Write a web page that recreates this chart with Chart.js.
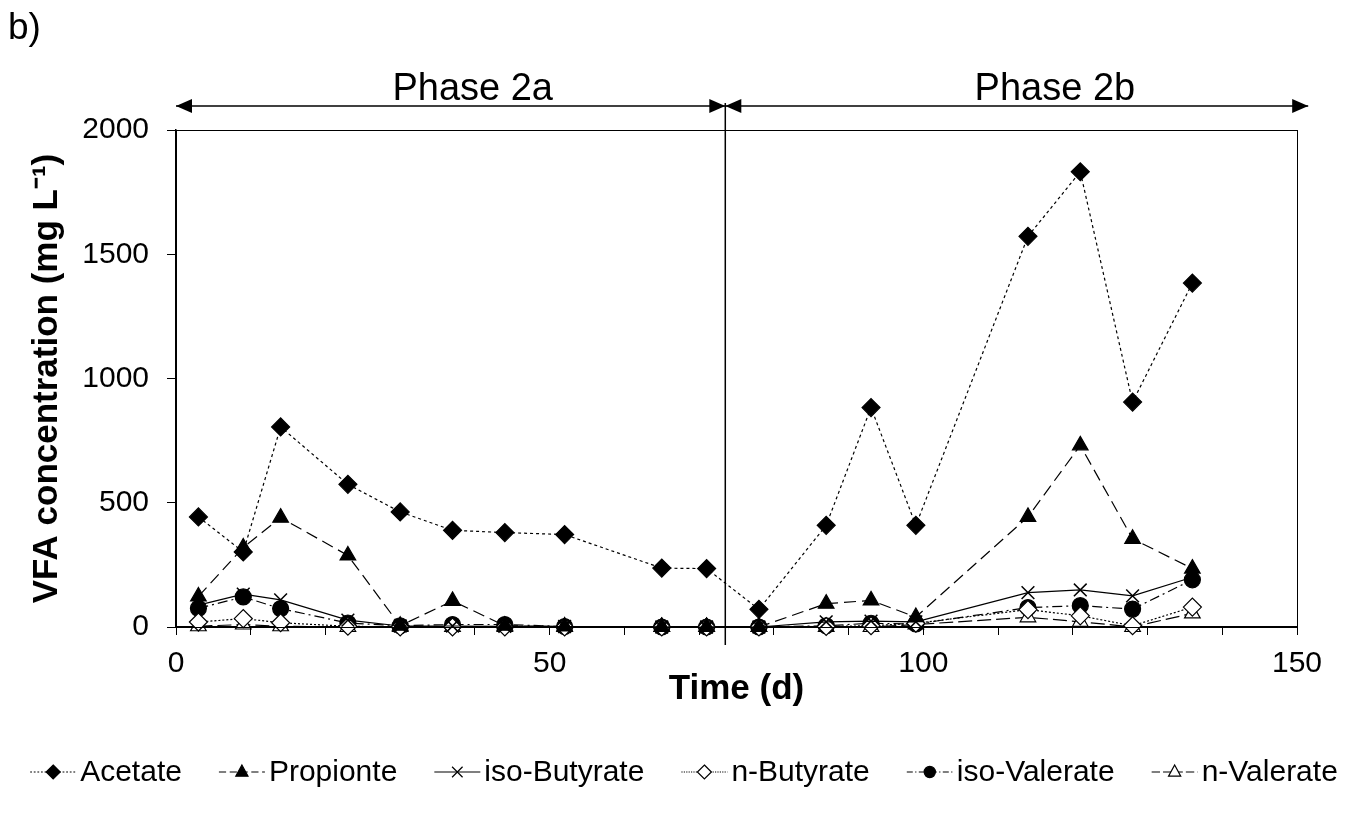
<!DOCTYPE html>
<html>
<head>
<meta charset="utf-8">
<script src="https://cdn.jsdelivr.net/npm/chart.js@4.4.1/dist/chart.umd.min.js"></script>
<style>
  html, body { margin: 0; padding: 0; background: #fff; }
  #wrap { width: 1353px; height: 819px; }
</style>
</head>
<body>
<div id="wrap"><canvas id="vfaChart" width="1353" height="819"></canvas></div>
<script>
// sampling days and VFA concentrations (mg/L)
const days        = [3, 9, 14, 23, 30, 37, 44, 52, 65, 71, 78, 87, 93, 99, 114, 121, 128, 136];
const acetate     = [443, 302, 805, 574, 463, 389, 380, 372, 237, 235, 71, 409, 883, 409, 1572, 1832, 905, 1384];
const propionte   = [123, 320, 440, 288, 5, 105, 5, 2, 0, 0, 0, 94, 107, 40, 443, 731, 355, 235];
const isoButyrate = [88, 132, 109, 28, 4, 4, 3, 2, 0, 0, 0, 21, 24, 21, 138, 149, 125, 200];
const nButyrate   = [20, 34, 17, 3, 0, 0, 0, 0, 0, 0, 0, 2, 5, 15, 70, 45, 5, 80];
const isoValerate = [75, 121, 74, 16, 5, 10, 10, 2, 0, 0, 0, 5, 15, 12, 78, 86, 72, 190];
const nValerate   = [3, 10, 3, 0, 0, 0, 0, 0, 0, 0, 0, 0, 0, 10, 39, 21, 0, 55];

const seriesNames = ['Acetate', 'Propionte', 'iso-Butyrate', 'n-Butyrate', 'iso-Valerate', 'n-Valerate'];
const seriesData  = [acetate, propionte, isoButyrate, nButyrate, isoValerate, nValerate];

const xTicks = [0, 50, 100, 150];
const yTicks = [0, 500, 1000, 1500, 2000];

// phase boundaries (days)
const phaseStart = 0;
const phaseSplit = 73.5;
const phaseEnd = 151.5;
const phaseLabels = [{ text: 'Phase 2a', at: 39.7 }, { text: 'Phase 2b', at: 117.6 }];

const FONT = "'Liberation Sans', Arial, Helvetica, sans-serif";

// line / marker look for each series
const styles = [
    { dash: [3, 3],          marker: 'rectRot',  r: 9, fill: '#000' },
    { dash: [12, 6],         marker: 'triangle', r: 9, fill: '#000' },
    { dash: [],              marker: 'crossRot', r: 9, fill: '#000' },
    { dash: [2, 2],          marker: 'rectRot',  r: 9, fill: '#fff' },
    { dash: [10, 4, 2, 4],   marker: 'circle',   r: 8, fill: '#000' },
    { dash: [14, 5],         marker: 'triangle', r: 9, fill: '#fff' }
];

const datasets = seriesNames.map(function (name, i) {
    const st = styles[i];
    return {
        label: name,
        data: days.map(function (d, k) { return { x: d, y: seriesData[i][k] }; }),
        borderColor: '#000',
        borderWidth: 1.2,
        borderDash: st.dash,
        pointStyle: st.marker,
        pointRadius: st.r,
        pointHoverRadius: st.r,
        pointBackgroundColor: st.fill,
        pointBorderColor: '#000',
        pointBorderWidth: st.marker === 'crossRot' ? 1.5 : 1.2,
        tension: 0,
        clip: false
    };
});

// small marker for the legend samples
function drawMarker(ctx, st, x, y, r) {
    ctx.save();
    ctx.setLineDash([]);
    ctx.lineWidth = 1.2;
    ctx.strokeStyle = '#000';
    ctx.fillStyle = st.fill;
    ctx.beginPath();
    if (st.marker === 'rectRot') {
        ctx.moveTo(x, y - r); ctx.lineTo(x + r, y); ctx.lineTo(x, y + r); ctx.lineTo(x - r, y);
        ctx.closePath(); ctx.fill(); ctx.stroke();
    } else if (st.marker === 'triangle') {
        ctx.moveTo(x, y - r); ctx.lineTo(x + r * 0.87, y + r * 0.6); ctx.lineTo(x - r * 0.87, y + r * 0.6);
        ctx.closePath(); ctx.fill(); ctx.stroke();
    } else if (st.marker === 'circle') {
        ctx.arc(x, y, r * 0.8, 0, Math.PI * 2); ctx.fill(); ctx.stroke();
    } else if (st.marker === 'crossRot') {
        const d = r * 0.75;
        ctx.moveTo(x - d, y - d); ctx.lineTo(x + d, y + d);
        ctx.moveTo(x + d, y - d); ctx.lineTo(x - d, y + d);
        ctx.stroke();
    }
    ctx.restore();
}

function arrowHead(ctx, x, y, dir) {
    ctx.beginPath();
    ctx.moveTo(x, y);
    ctx.lineTo(x - dir * 16, y - 7);
    ctx.lineTo(x - dir * 16, y + 7);
    ctx.closePath();
    ctx.fill();
}

const decorations = {
    id: 'decorations',
    afterDraw(chart) {
        const ctx = chart.ctx;
        const area = chart.chartArea;
        const xs = chart.scales.x;
        ctx.save();

        // plot frame
        ctx.strokeStyle = '#000';
        ctx.lineWidth = 1;
        ctx.strokeRect(area.left + 0.5, area.top + 0.5, area.right - area.left, area.bottom - area.top);

        // phase divider and arrows
        const xa = xs.getPixelForValue(phaseStart);
        const xm = xs.getPixelForValue(phaseSplit);
        const xb = xs.getPixelForValue(phaseEnd);
        const ay = area.top - 24;
        ctx.lineWidth = 1.5;
        ctx.beginPath();
        ctx.moveTo(xm, ay - 3);
        ctx.lineTo(xm, area.bottom + 18);
        ctx.stroke();

        ctx.beginPath();
        ctx.moveTo(xa, ay); ctx.lineTo(xb, ay);
        ctx.stroke();
        ctx.fillStyle = '#000';
        arrowHead(ctx, xa, ay, -1);
        arrowHead(ctx, xm, ay, 1);
        arrowHead(ctx, xm, ay, -1);
        arrowHead(ctx, xb, ay, 1);

        ctx.font = '38px ' + FONT;
        ctx.textAlign = 'center';
        ctx.textBaseline = 'alphabetic';
        phaseLabels.forEach(function (p) {
            ctx.fillText(p.text, xs.getPixelForValue(p.at), area.top - 30);
        });

        // panel letter
        ctx.font = '37px ' + FONT;
        ctx.textAlign = 'left';
        ctx.fillText('b)', 8, 39);

        // legend with line samples
        ctx.font = '30px ' + FONT;
        ctx.textBaseline = 'middle';
        const sampleW = 46, gap = 4, spacing = 37;
        const widths = seriesNames.map(function (n) { return sampleW + gap + ctx.measureText(n).width; });
        const total = widths.reduce(function (a, b) { return a + b; }, 0) + spacing * (widths.length - 1);
        let lx = 684 - total / 2;
        const ly = 772;
        seriesNames.forEach(function (name, i) {
            const st = styles[i];
            ctx.save();
            ctx.lineWidth = 1.2;
            ctx.setLineDash(st.dash.map(function (v) { return v * 0.6; }));
            ctx.beginPath();
            ctx.moveTo(lx, ly); ctx.lineTo(lx + sampleW, ly);
            ctx.stroke();
            ctx.restore();
            drawMarker(ctx, st, lx + sampleW / 2, ly, 7);
            ctx.fillStyle = '#000';
            ctx.fillText(name, lx + sampleW + gap, ly + 1);
            lx += widths[i] + spacing;
        });

        ctx.restore();
    }
};

new Chart(document.getElementById('vfaChart').getContext('2d'), {
    type: 'line',
    data: { datasets: datasets },
    options: {
        responsive: false,
        animation: false,
        devicePixelRatio: 1,
        layout: { padding: { top: 130, right: 56, bottom: 102, left: 0 } },
        plugins: {
            legend: { display: false },
            tooltip: { enabled: false }
        },
        scales: {
            x: {
                type: 'linear',
                min: 0,
                max: 150,
                afterFit: function (scale) { scale.height = 90; },
                afterBuildTicks: function (scale) {
                    const t = [];
                    for (let v = 0; v <= 150; v += 10) t.push({ value: v });
                    scale.ticks = t;
                },
                ticks: {
                    color: '#000',
                    font: { family: FONT, size: 30 },
                    padding: 11,
                    maxRotation: 0,
                    autoSkip: false,
                    callback: function (v) { return xTicks.includes(v) ? String(v) : ''; }
                },
                grid: { drawOnChartArea: false, drawTicks: true, tickLength: 8, color: '#000' },
                border: { color: '#000', width: 1.5 },
                title: {
                    display: true,
                    text: 'Time (d)',
                    color: '#000',
                    font: { family: FONT, size: 35, weight: 'bold' },
                    padding: { top: 0, bottom: 7 }
                }
            },
            y: {
                min: 0,
                max: 2000,
                afterFit: function (scale) { scale.width = 176; },
                afterBuildTicks: function (scale) {
                    scale.ticks = yTicks.map(function (v) { return { value: v }; });
                },
                ticks: {
                    color: '#000',
                    font: { family: FONT, size: 30 },
                    padding: 18,
                    callback: function (v) { return String(v); }
                },
                grid: { drawOnChartArea: false, drawTicks: true, tickLength: 9, color: '#000' },
                border: { color: '#000', width: 1.5 },
                title: {
                    display: true,
                    text: 'VFA concentration (mg L\u207B\u00B9)',
                    color: '#000',
                    font: { family: FONT, size: 35, weight: 'bold' },
                    padding: { top: 26, bottom: 0 }
                }
            }
        }
    },
    plugins: [decorations]
});
</script>
</body>
</html>
